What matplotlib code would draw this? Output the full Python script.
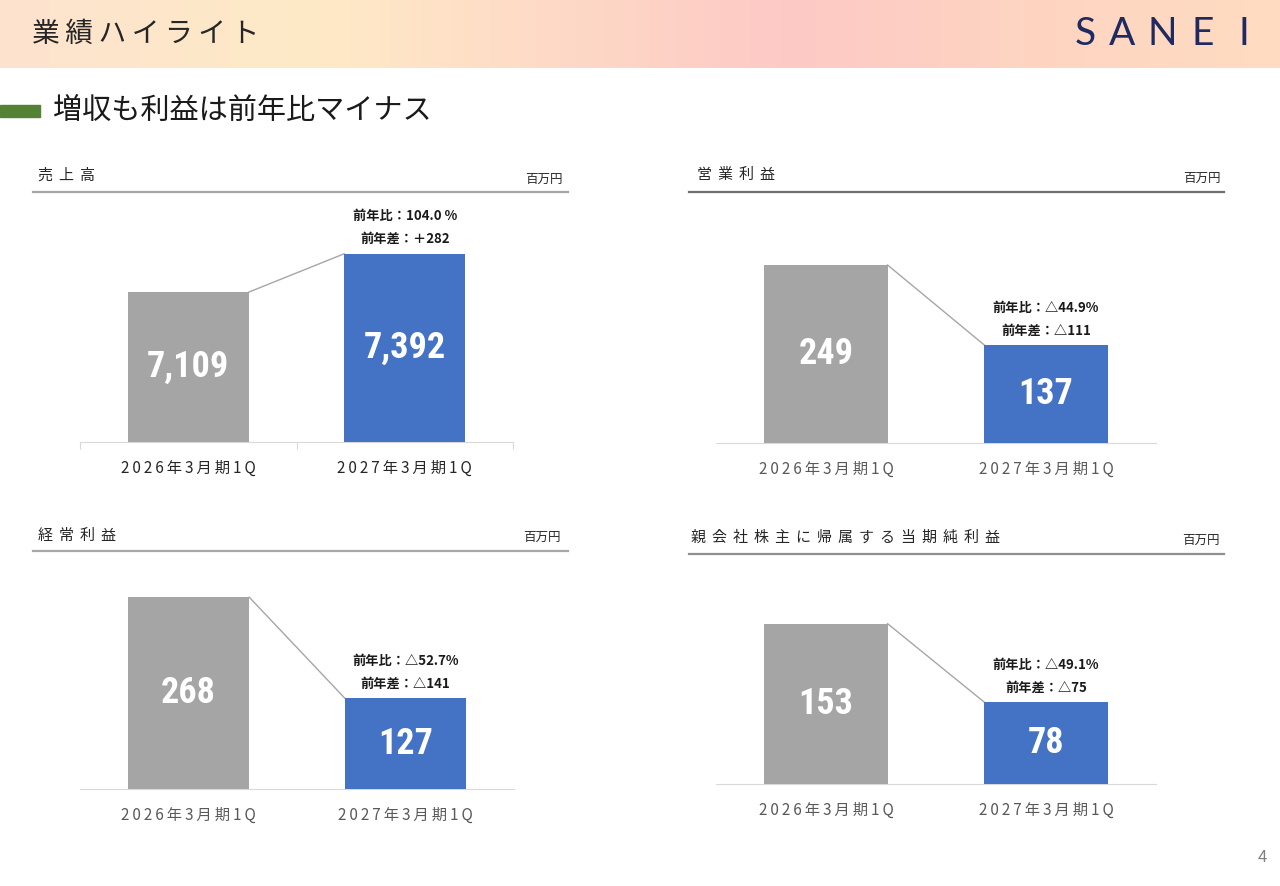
import numpy as np
import matplotlib
matplotlib.use("Agg")
import matplotlib.pyplot as plt
from matplotlib import font_manager
from matplotlib.colors import LinearSegmentedColormap
from matplotlib.patches import Rectangle

# ---------------- data ----------------
categories = ["2026年3月期1Q", "2027年3月期1Q"]
sales = [7109, 7392]
operating_profit = [249, 137]
ordinary_profit = [268, 127]
net_profit = [153, 78]

panel_titles = ["売上高", "営業利益", "経常利益", "親会社株主に帰属する当期純利益"]
ratio_texts = ["前年比：104.0 %", "前年比：△44.9%", "前年比：△52.7%", "前年比：△49.1%"]
diff_texts = ["前年差：＋282", "前年差：△111", "前年差：△141", "前年差：△75"]
unit = "百万円"
page_title = "業績ハイライト"
subtitle = "増収も利益は前年比マイナス"

# ---------------- style ----------------
JP = ["Noto Sans CJK JP", "DejaVu Sans"]
plt.rcParams["font.family"] = JP
names = {f.name for f in font_manager.fontManager.ttflist}
NUM = next((n for n in ["Liberation Sans Narrow", "Roboto Condensed", "Roboto"]
            if n in names), "DejaVu Sans")

W, H = 1280, 886
GRAY = "#a5a5a5"
BLUE = "#4472c4"


def spaced(s, sep="\u2009"):
    return sep.join(s)


def px_rect(x0, y0, x1, y1):
    return [x0 / W, 1 - y1 / H, (x1 - x0) / W, (y1 - y0) / H]


fig = plt.figure(figsize=(W / 100, H / 100), dpi=100)
bg = fig.add_axes([0, 0, 1, 1])
bg.axis("off")

# header band
hdr = LinearSegmentedColormap.from_list(
    "hdr", [(0, "#fde3cf"), (0.25, "#feeac6"), (0.45, "#fed8c6"),
            (0.62, "#fdc9c5"), (0.8, "#fed4c2"), (1, "#fedcc1")])
bg.imshow(np.linspace(0, 1, 256)[None, :], cmap=hdr,
          extent=(0, W, 68, 0), aspect="auto")
bg.set_xlim(0, W)
bg.set_ylim(H, 0)

bg.text(32, 34, spaced(page_title), fontsize=20, va="center",
        color="#262626")
for ch, x in zip("SANEI", [1085, 1122, 1162, 1203, 1244]):
    bg.text(x, 34, ch, fontsize=28, family="Lato",
            color="#1f2a60", ha="center", va="center")

bg.add_patch(Rectangle((0, 105), 40, 12, color="#548235"))
bg.text(53, 111, subtitle, fontsize=21, va="center", color="#1a1a1a")
bg.text(1262, 858, "4", fontsize=12, va="center", ha="center",
        color="#7f7f7f")

# ---------------- panels ----------------
layout = [
    dict(box=(80, 200, 513, 442), ylim=(6000, 7790), rule=(33, 568, 192),
         title=(38, 176), unit=(563, 179), ticks=True, cat_color="#262626",
         rule_color="#a6a6a6"),
    dict(box=(716, 200, 1156, 443), ylim=(0, 340), rule=(689, 1224, 192),
         title=(697, 175), unit=(1221, 178), ticks=False, cat_color="#595959",
         rule_color="#6f6f6f"),
    dict(box=(80, 560, 514, 789), ylim=(0, 320), rule=(33, 568, 551),
         title=(38, 536), unit=(561, 537), ticks=False, cat_color="#595959",
         rule_color="#a6a6a6"),
    dict(box=(716, 565, 1156, 784), ylim=(0, 209), rule=(689, 1224, 554),
         title=(691, 538), unit=(1220, 540), ticks=False, cat_color="#595959",
         rule_color="#8f8f8f"),
]
series = [sales, operating_profit, ordinary_profit, net_profit]

for i, (lay, values) in enumerate(zip(layout, series)):
    x0, x1, yr = lay["rule"]
    bg.plot([x0, x1], [yr, yr], color=lay["rule_color"], lw=1.6)
    bg.text(lay["title"][0], lay["title"][1], spaced(panel_titles[i], "\u2009\u2009"),
            fontsize=10.8, va="center", color="#262626")
    bg.text(lay["unit"][0], lay["unit"][1], unit, fontsize=9, va="center",
            ha="right", color="#262626")

    ax = fig.add_axes(px_rect(*lay["box"]))
    ax.set_facecolor("none")
    ymin, ymax = lay["ylim"]
    x = np.arange(len(values))
    w = 0.56
    v = np.array(values)
    ax.bar(x, v - ymin, bottom=ymin, width=w, color=[GRAY, BLUE], zorder=3)
    ax.plot([x[0] + w / 2, x[1] - w / 2], v, color="#a6a6a6", lw=1, zorder=2)
    for xi, val in zip(x, v):
        ax.text(xi, (ymin + val) / 2, f"{val:,}", ha="center", va="center",
                color="white", fontsize=26, fontweight="bold", family=NUM,
                zorder=4)
        ax.annotate(spaced(categories[xi]), (xi, ymin), xytext=(0, -18.7),
                    textcoords="offset points", ha="center", va="center",
                    fontsize=11, color=lay["cat_color"], annotation_clip=False)
    ax.annotate(diff_texts[i], (x[1], v[1]), xytext=(0, 10.5),
                textcoords="offset points", ha="center", va="center",
                fontsize=9.5, fontweight="bold", color="#1a1a1a")
    ax.annotate(ratio_texts[i], (x[1], v[1]), xytext=(0, 27),
                textcoords="offset points", ha="center", va="center",
                fontsize=9.5, fontweight="bold", color="#1a1a1a")

    ax.set_xlim(-0.5, 1.5)
    ax.set_ylim(ymin, ymax)
    for s in ["top", "left", "right"]:
        ax.spines[s].set_visible(False)
    ax.spines["bottom"].set_color("#d9d9d9")
    ax.set_yticks([])
    if lay["ticks"]:
        ax.set_xticks([-0.5, 0.5, 1.5])
        ax.set_xticklabels([])
        ax.tick_params(axis="x", length=5, color="#d9d9d9")
    else:
        ax.set_xticks([])

fig.savefig("out.png", dpi=100)
